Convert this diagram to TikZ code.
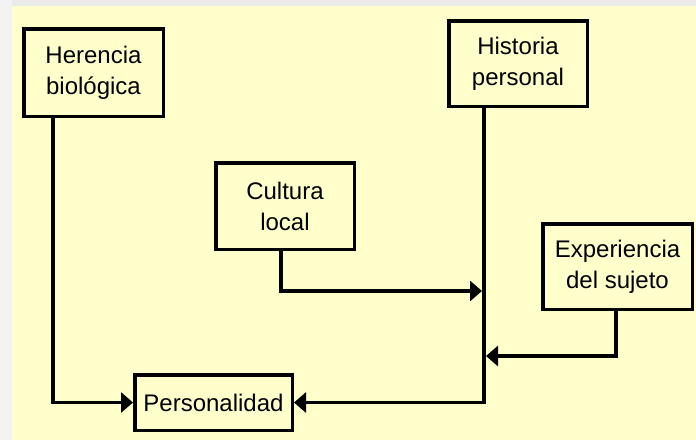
\documentclass[tikz,border=0pt]{standalone}
\usepackage{fontspec}
\setmainfont{Liberation Sans}
\usetikzlibrary{arrows.meta}
\definecolor{paper}{HTML}{FFFFCC}
\definecolor{frame}{HTML}{F3F3F3}
\definecolor{topbar}{HTML}{EAEAEA}

\begin{document}
\begin{tikzpicture}[x=1pt, y=-1pt, >={Triangle[length=12pt, width=20pt]},
    box/.style={draw, rectangle, line width=3.5pt, align=center, inner sep=0pt,
        font=\fontsize{24}{31}\selectfont},
    link/.style={line width=3.5pt}]

        % Background
        \useasboundingbox (0,0) rectangle (696,440);
        \fill[frame] (0,0) rectangle (696,440);
        \fill[topbar] (12,0) rectangle (696,6);
        \fill[paper] (12,6) rectangle (696,440);

        % Nodes
        \node[box, minimum width=139.5pt, minimum height=87.5pt] (herencia) at (93.5,72.5) {Herencia\\biológica};
        \node[box, minimum width=138.5pt, minimum height=85.5pt] (historia) at (518,63.5) {Historia\\personal};
        \node[box, minimum width=138.5pt, minimum height=86.5pt] (cultura) at (285,206) {Cultura\\local};
        \node[box, minimum width=149.5pt, minimum height=85.5pt] (experiencia) at (617.5,266.5) {Experiencia\\del sujeto};
        \node[box, minimum width=157.5pt, minimum height=55.5pt] (perso) at (213.5,402.5) {Personalidad};
        \coordinate (join1) at (482,291);
        \coordinate (join2) at (486,356);

        % Arrows
        \draw[link, ->] ([xshift=31pt]herencia.south west) |- (perso.west);
        \draw[link, ->] ([xshift=37pt]historia.south west) |- (perso.east);
        \draw[link, ->] ([xshift=-4pt]cultura.south) |- (join1);
        \draw[link, ->] ([xshift=-1.5pt]experiencia.south) |- (join2);

\end{tikzpicture}
\end{document}
